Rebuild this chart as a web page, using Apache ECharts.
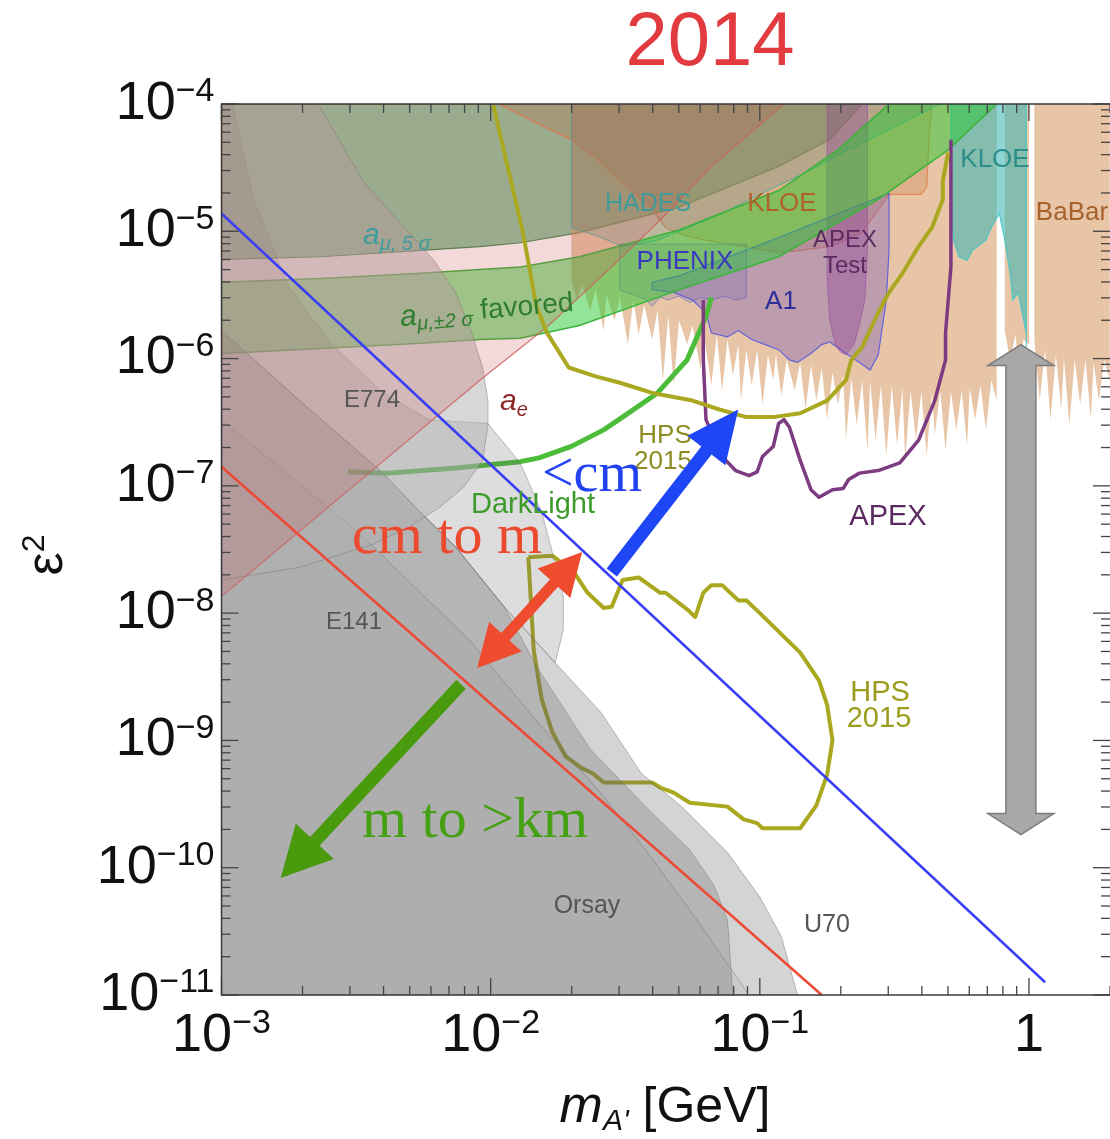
<!DOCTYPE html>
<html><head><meta charset="utf-8">
<script src="https://cdn.jsdelivr.net/npm/echarts/dist/echarts.min.js"></script>
<style>html,body{margin:0;padding:0;background:#fff}#c{width:1110px;height:1139px}</style>
</head><body><div id="c"></div>
<script>
// All curve / region values are [log10(m_A' / GeV), log10(eps^2)].
const blueLine = [[-3.00,-4.86],[0.06,-10.90]];
const redLine  = [[-3.00,-6.85],[-0.77,-11.00]];
const hpsUpper = [[-1.99,-4.01],[-1.88,-5.01],[-1.83,-5.59],[-1.79,-5.80],[-1.71,-6.07],[-1.61,-6.14],[-1.52,-6.19],[-1.40,-6.27],[-1.25,-6.33],[-1.15,-6.40],[-1.05,-6.46],[-0.95,-6.46],[-0.85,-6.43],[-0.75,-6.33],[-0.68,-6.17],[-0.66,-6.01],[-0.62,-5.91],[-0.56,-5.64],[-0.52,-5.48],[-0.47,-5.33],[-0.41,-5.12],[-0.36,-4.97],[-0.32,-4.75],[-0.32,-4.60],[-0.30,-4.38]];
const hpsLoop = [[-1.86,-7.56],[-1.77,-7.55],[-1.69,-7.68],[-1.64,-7.84],[-1.58,-7.96],[-1.55,-7.95],[-1.51,-7.74],[-1.45,-7.72],[-1.37,-7.84],[-1.35,-7.84],[-1.27,-7.97],[-1.24,-8.03],[-1.21,-7.84],[-1.18,-7.78],[-1.14,-7.78],[-1.08,-7.90],[-1.05,-7.90],[-1.00,-8.00],[-0.85,-8.31],[-0.78,-8.53],[-0.75,-8.72],[-0.73,-9.00],[-0.75,-9.27],[-0.79,-9.51],[-0.85,-9.69],[-0.99,-9.69],[-1.01,-9.65],[-1.06,-9.62],[-1.12,-9.52],[-1.26,-9.49],[-1.32,-9.41],[-1.37,-9.37],[-1.40,-9.33],[-1.58,-9.33],[-1.62,-9.26],[-1.66,-9.22],[-1.72,-9.13],[-1.77,-8.94],[-1.81,-8.68],[-1.83,-8.42],[-1.84,-8.29]];
const apexLine = [[-1.21,-5.54],[-1.21,-6.01],[-1.20,-6.48],[-1.14,-6.77],[-1.09,-6.88],[-1.04,-6.92],[-1.01,-6.89],[-0.99,-6.77],[-0.95,-6.69],[-0.93,-6.51],[-0.91,-6.48],[-0.89,-6.54],[-0.85,-6.80],[-0.81,-7.03],[-0.78,-7.09],[-0.73,-7.03],[-0.69,-7.02],[-0.67,-6.95],[-0.63,-6.90],[-0.56,-6.88],[-0.48,-6.82],[-0.41,-6.64],[-0.35,-6.33],[-0.31,-6.01],[-0.31,-5.80],[-0.29,-5.28],[-0.29,-4.75],[-0.29,-4.28]];
const darkLight = [[-2.53,-6.89],[-2.38,-6.90],[-2.13,-6.86],[-1.89,-6.81],[-1.82,-6.78],[-1.70,-6.69],[-1.58,-6.56],[-1.51,-6.46],[-1.38,-6.27],[-1.27,-6.01],[-1.20,-5.67],[-1.18,-5.52]];

const aeRegion = [[-3.00,-4.00],[-0.91,-4.00],[-1.18,-4.49],[-1.36,-4.89],[-1.55,-5.28],[-1.79,-5.75],[-2.04,-6.17],[-2.52,-7.02],[-3.00,-7.87]];
const amu5s = [[-3.00,-5.22],[-2.63,-5.20],[-2.26,-5.15],[-2.04,-5.12],[-1.89,-5.09],[-1.67,-5.01],[-1.30,-4.81],[-0.93,-4.49],[-0.74,-4.28],[-0.62,-4.00]];
const amu2sUpper = [[-3.00,-5.40],[-2.63,-5.37],[-2.26,-5.33],[-2.04,-5.30],[-1.89,-5.28],[-1.67,-5.20],[-1.30,-4.99],[-0.93,-4.68],[-0.71,-4.36],[-0.52,-4.00]];
const amu2sLower = [[-3.00,-5.96],[-2.63,-5.92],[-2.26,-5.88],[-2.04,-5.85],[-1.89,-5.84],[-1.67,-5.74],[-1.30,-5.46],[-0.93,-5.20],[-0.56,-4.75],[-0.30,-4.36],[-0.12,-4.00]];

const kloeOrange = [[-1.97,-4.00],[-1.82,-4.16],[-1.70,-4.28],[-1.60,-4.44],[-1.51,-4.62],[-1.40,-4.83],[-1.35,-4.97],[-1.27,-5.04],[-1.15,-5.09],[-1.05,-5.12],[-0.93,-5.17],[-0.74,-5.12],[-0.62,-5.01],[-0.52,-4.71],[-0.40,-4.71],[-0.38,-4.65],[-0.37,-4.23],[-0.36,-4.00]];
const hades = [[-1.70,-4.00],[-1.70,-4.97],[-1.60,-5.04],[-1.51,-5.12],[-1.38,-5.07],[-1.31,-5.01],[-1.15,-4.87],[-1.00,-4.71],[-0.85,-4.56],[-0.67,-4.36],[-0.48,-4.16],[-0.33,-4.00]];
const phenix = [[-1.52,-5.10],[-1.52,-5.46],[-1.47,-5.50],[-1.42,-5.54],[-1.40,-5.59],[-1.37,-5.52],[-1.34,-5.54],[-1.30,-5.51],[-1.26,-5.56],[-1.22,-5.52],[-1.18,-5.54],[-1.13,-5.51],[-1.09,-5.54],[-1.05,-5.52],[-1.05,-5.10]];
const a1 = [[-1.40,-5.40],[-1.40,-5.46],[-1.32,-5.48],[-1.25,-5.54],[-1.20,-5.64],[-1.18,-5.80],[-1.12,-5.83],[-1.08,-5.78],[-1.03,-5.85],[-0.98,-5.89],[-0.93,-5.93],[-0.89,-6.01],[-0.86,-6.03],[-0.81,-5.96],[-0.77,-5.89],[-0.74,-5.87],[-0.68,-5.96],[-0.63,-6.03],[-0.59,-6.09],[-0.56,-5.97],[-0.53,-5.54],[-0.52,-5.15],[-0.52,-4.70],[-0.93,-5.05],[-1.30,-5.35]];
const apexTest = [[-0.75,-4.00],[-0.75,-5.38],[-0.74,-5.70],[-0.72,-5.89],[-0.70,-5.95],[-0.68,-5.97],[-0.65,-5.89],[-0.63,-5.74],[-0.61,-5.54],[-0.60,-5.15],[-0.60,-4.00]];
const kloeTeal = [[-0.29,-4.00],[-0.29,-4.75],[-0.28,-5.07],[-0.26,-5.20],[-0.23,-5.23],[-0.21,-5.15],[-0.16,-5.07],[-0.14,-4.97],[-0.11,-4.86],[-0.09,-5.07],[-0.07,-5.33],[-0.06,-5.54],[-0.04,-5.48],[-0.01,-5.80],[-0.01,-5.91],[-0.01,-4.00]];
const babarA = [[-1.70,-4.00],[-1.70,-5.38],[-1.68,-5.54],[-1.66,-5.42],[-1.63,-5.62],[-1.61,-5.46],[-1.58,-5.78],[-1.57,-5.50],[-1.54,-5.70],[-1.52,-5.52],[-1.49,-5.89],[-1.47,-5.54],[-1.45,-5.81],[-1.43,-5.58],[-1.40,-5.85],[-1.38,-5.62],[-1.36,-6.17],[-1.34,-5.66],[-1.32,-6.21],[-1.30,-5.70],[-1.27,-5.89],[-1.25,-5.74],[-1.22,-6.09],[-1.21,-5.78],[-1.18,-6.21],[-1.16,-5.81],[-1.14,-6.25],[-1.12,-5.85],[-1.10,-6.13],[-1.08,-5.89],[-1.07,-6.33],[-1.05,-5.93],[-1.03,-6.21],[-1.01,-5.93],[-0.99,-6.36],[-0.97,-5.97],[-0.95,-6.17],[-0.94,-5.97],[-0.92,-6.29],[-0.90,-6.01],[-0.87,-6.25],[-0.85,-6.03],[-0.83,-6.40],[-0.81,-6.05],[-0.79,-6.33],[-0.77,-6.07],[-0.75,-6.48],[-0.73,-6.11],[-0.71,-6.36],[-0.69,-6.13],[-0.68,-6.64],[-0.66,-6.15],[-0.64,-6.52],[-0.62,-6.17],[-0.60,-6.72],[-0.59,-6.18],[-0.57,-6.64],[-0.55,-6.21],[-0.53,-6.76],[-0.51,-6.21],[-0.49,-6.68],[-0.47,-6.23],[-0.46,-6.80],[-0.44,-6.25],[-0.42,-6.64],[-0.40,-6.26],[-0.38,-6.76],[-0.36,-6.26],[-0.35,-6.60],[-0.33,-6.25],[-0.31,-6.72],[-0.29,-6.26],[-0.27,-6.56],[-0.25,-6.25],[-0.23,-6.68],[-0.22,-6.23],[-0.20,-6.48],[-0.18,-6.21],[-0.16,-6.56],[-0.14,-6.17],[-0.12,-6.33],[-0.12,-4.00]];
const babarB = [[-0.09,-4.00],[-0.09,-5.78],[-0.07,-6.01],[-0.05,-5.81],[-0.04,-6.09],[-0.02,-5.85],[0.00,-5.89],[0.00,-4.00]];
const babarC = [[0.02,-4.00],[0.02,-5.85],[0.04,-6.33],[0.06,-5.93],[0.08,-6.48],[0.10,-5.97],[0.12,-6.40],[0.13,-6.00],[0.15,-6.52],[0.17,-6.01],[0.19,-6.36],[0.21,-6.01],[0.23,-6.48],[0.24,-6.03],[0.26,-6.33],[0.28,-6.01],[0.30,-6.17],[0.30,-4.00]];

const grayE774 = [[-3.00,-4.00],[-2.64,-4.00],[-2.47,-4.62],[-2.32,-4.97],[-2.21,-5.23],[-2.13,-5.48],[-2.07,-5.80],[-2.03,-6.07],[-2.01,-6.33],[-2.01,-6.52],[-2.03,-6.80],[-2.10,-7.01],[-2.19,-7.17],[-2.30,-7.32],[-2.44,-7.46],[-2.71,-7.64],[-3.00,-7.74]];
const grayE141 = [[-3.00,-4.00],[-2.96,-4.00],[-2.88,-4.75],[-2.75,-5.44],[-2.59,-5.89],[-2.41,-6.25],[-2.23,-6.48],[-2.01,-6.51],[-1.89,-6.82],[-1.81,-7.21],[-1.77,-7.53],[-1.73,-7.87],[-1.73,-8.13],[-1.76,-8.39],[-1.95,-7.95],[-2.13,-7.48],[-2.26,-7.21],[-2.41,-6.88],[-2.71,-6.33],[-3.00,-5.78]];
const grayU70 = [[-3.00,-5.78],[-2.71,-6.33],[-2.41,-6.88],[-2.26,-7.21],[-2.13,-7.48],[-1.95,-7.95],[-1.76,-8.39],[-1.59,-8.78],[-1.44,-9.26],[-1.29,-9.52],[-1.12,-9.88],[-1.00,-10.23],[-0.92,-10.54],[-0.86,-11.00],[-3.00,-11.00]];
const grayOrsay = [[-3.00,-5.78],[-2.71,-6.33],[-2.41,-6.88],[-2.26,-7.21],[-2.13,-7.48],[-1.95,-7.95],[-1.82,-8.45],[-1.63,-9.07],[-1.41,-9.55],[-1.26,-9.86],[-1.17,-10.14],[-1.12,-10.41],[-1.10,-11.00],[-3.00,-11.00]];
const grayE137 = [[-3.00,-6.48],[-2.50,-7.35],[-2.08,-8.21],[-1.84,-8.82],[-1.60,-9.39],[-1.41,-9.90],[-1.22,-10.45],[-1.04,-11.00],[-3.00,-11.00]];

// annotation arrows: [from, to] in the same log units
const arrowBlue  = [[-1.55,-7.68],[-1.08,-6.40]];
const arrowRed   = [[-1.66,-7.52],[-2.05,-8.43]];
const arrowGreen = [[-2.11,-8.56],[-2.78,-10.08]];
const arrowGray  = [[-0.03,-5.89],[-0.03,-9.74]];

// axes ticks
const xMajorTicks = [1e-3, 1e-2, 1e-1, 1];
const xTickLabels = ['{b|10}{s|−3}','{b|10}{s|−2}','{b|10}{s|−1}','{b|1}'];
const yMajorTicks = [1e-11,1e-10,1e-9,1e-8,1e-7,1e-6,1e-5,1e-4];
const yTickLabels = ['{b|10}{s|−11}','{b|10}{s|−10}','{b|10}{s|−9}','{b|10}{s|−8}','{b|10}{s|−7}','{b|10}{s|−6}','{b|10}{s|−5}','{b|10}{s|−4}'];
const xMinorTicks = [0.002,0.003,0.004,0.005,0.006,0.007,0.008,0.009,0.02,0.03,0.04,0.05,0.06,0.07,0.08,0.09,0.2,0.3,0.4,0.5,0.6,0.7,0.8,0.9,2];
const yMinorTicks = [2e-11,3e-11,4e-11,5e-11,6e-11,7e-11,8e-11,9e-11,2e-10,3e-10,4e-10,5e-10,6e-10,7e-10,8e-10,9e-10,2e-9,3e-9,4e-9,5e-9,6e-9,7e-9,8e-9,9e-9,2e-8,3e-8,4e-8,5e-8,6e-8,7e-8,8e-8,9e-8,2e-7,3e-7,4e-7,5e-7,6e-7,7e-7,8e-7,9e-7,2e-6,3e-6,4e-6,5e-6,6e-6,7e-6,8e-6,9e-6,2e-5,3e-5,4e-5,5e-5,6e-5,7e-5,8e-5,9e-5];

const F = '"Liberation Sans", Arial, Helvetica, sans-serif';
const SERIF = '"Liberation Serif", "Times New Roman", serif';
const XMIN = 1e-3, XMAX = 2, YMIN = 1e-11, YMAX = 1e-4;
const V = arr => arr.map(p => [Math.pow(10, p[0]), Math.pow(10, p[1])]);

function region(logPts, fill, stroke, lw, z) {
  const pts = V(logPts);
  return { type: 'custom', z, silent: true, clip: true, data: [[XMIN, YMIN]],
    renderItem: (params, api) => ({ type: 'polygon', shape: { points: pts.map(p => api.coord(p)) },
      style: { fill, stroke: stroke || null, lineWidth: lw || 0 } }) };
}
function curve(logPts, color, width, z, closed) {
  const d = V(closed ? logPts.concat([logPts[0]]) : logPts);
  return { type: 'line', data: d, symbol: 'none', showSymbol: false, silent: true, z,
    lineStyle: { color, width, join: 'round' } };
}
function arrow(pair, sty, dbl, z) {
  const a = V(pair);
  return { type: 'custom', z, silent: true, clip: false, data: [[XMIN, YMIN]],
    renderItem: (params, api) => {
      const A = api.coord(a[0]), B = api.coord(a[1]);
      const dx = B[0]-A[0], dy = B[1]-A[1], L = Math.hypot(dx, dy), ux = dx/L, uy = dy/L, nx = -uy, ny = ux;
      const w = sty.shaft/2, hl = sty.headLen, hh = sty.headHalf;
      const P = (p, s, t) => [p[0]+ux*s+nx*t, p[1]+uy*s+ny*t];
      const pts = dbl
        ? [A, P(A,hl,hh), P(A,hl,w), P(B,-hl,w), P(B,-hl,hh), B, P(B,-hl,-hh), P(B,-hl,-w), P(A,hl,-w), P(A,hl,-hh)]
        : [P(A,0,w), P(B,-hl,w), P(B,-hl,hh), B, P(B,-hl,-hh), P(B,-hl,-w), P(A,0,-w)];
      return { type: 'polygon', shape: { points: pts }, style: { fill: sty.fill, stroke: sty.stroke || null, lineWidth: sty.lw || 0 } };
    } };
}
function xTicks(vals, len) {
  return { type: 'custom', z: 20, silent: true, clip: false, data: vals.map(v => [v, YMIN]),
    renderItem: (params, api) => {
      const b = api.coord([api.value(0), YMIN]), t = api.coord([api.value(0), YMAX]);
      const s = { stroke: '#444', lineWidth: 1.3 };
      return { type: 'group', children: [
        { type: 'line', shape: { x1: b[0], y1: b[1], x2: b[0], y2: b[1]-len }, style: s },
        { type: 'line', shape: { x1: t[0], y1: t[1], x2: t[0], y2: t[1]+len }, style: s } ] };
    } };
}
function yTicks(vals, len) {
  return { type: 'custom', z: 20, silent: true, clip: false, data: vals.map(v => [XMIN, v]),
    renderItem: (params, api) => {
      const l = api.coord([XMIN, api.value(1)]), r = api.coord([XMAX, api.value(1)]);
      const s = { stroke: '#444', lineWidth: 1.3 };
      return { type: 'group', children: [
        { type: 'line', shape: { x1: l[0], y1: l[1], x2: l[0]+len, y2: l[1] }, style: s },
        { type: 'line', shape: { x1: r[0], y1: r[1], x2: r[0]-len, y2: r[1] }, style: s } ] };
    } };
}
function labelFor(v, ticks, labels) {
  const lv = Math.log10(v);
  for (let i = 0; i < ticks.length; i++) if (Math.abs(Math.log10(ticks[i]) - lv) < 1e-6) return labels[i];
  return '';
}
const axisRich = {
  b: { fontSize: 54, fontFamily: F, color: '#111', lineHeight: 58 },
  s: { fontSize: 34, fontFamily: F, color: '#111', lineHeight: 26, verticalAlign: 'top' }
};

const gray = a => 'rgba(100,100,100,' + a + ')';
const gStroke = 'rgba(115,115,115,0.45)';

const series = [
  region([[-3.00,-4.00]].concat(amu5s), 'rgba(27,139,63,0.5)', '#3f8a4f', 1.2, 0),
  region(babarA, 'rgba(214,150,92,0.55)', null, 0, 1),
  region(babarB, 'rgba(214,150,92,0.55)', null, 0, 1),
  region(babarC, 'rgba(214,150,92,0.55)', null, 0, 1),
  region(kloeOrange, 'rgba(190,110,50,0.25)', 'rgba(225,130,80,0.9)', 1.2, 2),
  region(hades, 'rgba(40,140,140,0.22)', 'rgba(60,170,170,0.8)', 1, 2),
  region(phenix, 'rgba(40,60,170,0.14)', 'rgba(60,80,200,0.45)', 1, 2),
  region(a1, 'rgba(110,80,190,0.35)', 'rgba(90,90,225,0.9)', 1.2, 2),
  region(apexTest, 'rgba(140,60,150,0.35)', 'rgba(150,80,160,0.6)', 1, 2),
  region(kloeTeal, 'rgba(50,180,180,0.55)', 'rgba(70,200,200,0.9)', 1.2, 2),
  region(amu2sUpper.concat(amu2sLower.slice().reverse()), 'rgba(40,200,50,0.5)', '#3bb33b', 1.5, 3),
  curve(hpsLoop, '#a9a81e', 4, 5, true),
  curve(darkLight, '#4cbc3a', 5, 5, false),
  region(grayE137, gray(0.08), gStroke, 1, 6),
  region(grayU70, gray(0.28), gStroke, 1, 6),
  region(grayOrsay, gray(0.28), gStroke, 1, 6),
  region(grayE141, gray(0.22), gStroke, 1, 6),
  region(grayE774, 'rgba(175,175,175,0.5)', gStroke, 1, 6),
  region(aeRegion, 'rgba(200,80,80,0.22)', 'rgba(205,95,95,0.85)', 1.2, 7),
  curve(blueLine, '#3a3ff5', 2.5, 8, false),
  curve(redLine, '#ec4a36', 2.5, 8, false),
  curve(apexLine, '#7d3b82', 3.5, 8, false),
  curve(hpsUpper, '#aaa820', 4, 8, false),
  arrow(arrowBlue, { shaft: 13, headLen: 52, headHalf: 24, fill: '#1f46f5' }, false, 10),
  arrow(arrowRed, { shaft: 11, headLen: 42, headHalf: 22, fill: '#ee4b2f' }, true, 10),
  arrow(arrowGreen, { shaft: 13, headLen: 50, headHalf: 26, fill: '#4a9a0e' }, false, 10),
  arrow(arrowGray, { shaft: 30, headLen: 21, headHalf: 33, fill: '#a8a8a8', stroke: '#7c7c7c', lw: 1.5 }, true, 10),
  xTicks(xMajorTicks, 17), xTicks(xMinorTicks, 9),
  yTicks(yMajorTicks, 17), yTicks(yMinorTicks, 9)
];

const T = (x, y, text, size, color, o = {}) => ({
  type: 'text', x, y, z: o.z != null ? o.z : 100, rotation: o.rot || 0, silent: true,
  style: { text, fill: color, font: (o.italic ? 'italic ' : '') + size + 'px ' + (o.serif ? SERIF : F),
    textAlign: o.align || 'center', align: o.align || 'center', textVerticalAlign: 'middle', verticalAlign: 'middle',
    rich: o.rich }
});
const subRich = (c, aSize, sSize, extra) => Object.assign({
  a: { fontSize: aSize, fontFamily: F, fontStyle: 'italic', fill: c, color: c, lineHeight: aSize + 6 },
  s: { fontSize: sSize, fontFamily: F, fontStyle: 'italic', fill: c, color: c, lineHeight: sSize, verticalAlign: 'bottom' }
}, extra || {});

const graphic = [
  { type: 'rect', z: 30, silent: true, shape: { x: 221.5, y: 104, width: 889.5, height: 891 }, style: { fill: null, stroke: '#3a3a3a', lineWidth: 1.5 } },
  T(710, 44, '2014', 76, '#e23b3f'),
  T(648, 204, 'HADES', 25, '#3f9b9b'),
  T(782, 204, 'KLOE', 26, '#b0612b'),
  T(995, 160, 'KLOE', 26, '#2f8c8c'),
  T(1072, 213, 'BaBar', 26, '#a5622d'),
  T(845, 240, 'APEX', 24, '#5b2a60'),
  T(845, 266, 'Test', 24, '#5b2a60'),
  T(685, 262, 'PHENIX', 26, '#3a3abf'),
  T(781, 302, 'A1', 26, '#2d2d9b'),
  T(363, 236, '{a|a}{s|μ, 5 σ}', 30, '#3c9c9c', { align: 'left', rich: subRich('#3c9c9c', 30, 20) }),
  T(400, 318, '{a|a}{s|μ,±2 σ}{f| favored}', 30, '#2f7d2f', { align: 'left', rot: 0.085,
     rich: subRich('#2f7d2f', 30, 20, { f: { fontSize: 28, fontFamily: F, fill: '#2f7d2f', color: '#2f7d2f', lineHeight: 36 } }) }),
  T(372, 400, 'E774', 24, '#555'),
  T(500, 402, '{a|a}{s|e}', 30, '#8c2626', { align: 'left', rich: subRich('#8c2626', 30, 20) }),
  T(665, 436, 'HPS', 26, '#8c8c22', { z: 9 }),
  T(663, 462, '2015', 26, '#8c8c22', { z: 9 }),
  T(592, 476, '<cm', 56, '#2343f2', { serif: true }),
  T(533, 505, 'DarkLight', 29, '#3d9b2c'),
  T(888, 517, 'APEX', 29, '#5b2a60'),
  T(447, 538, 'cm to m', 58, '#ec4a2f', { serif: true }),
  T(354, 622, 'E141', 24, '#555'),
  T(880, 693, 'HPS', 29, '#9c9c1f'),
  T(879, 719, '2015', 29, '#9c9c1f'),
  T(475, 822, 'm to >km', 58, '#46a014', { serif: true }),
  T(587, 906, 'Orsay', 25, '#555'),
  T(827, 925, 'U70', 25, '#555'),
  T(665, 1108, '{m|m}{s|A\'}{t| [GeV]}', 50, '#111', { rich: {
     m: { fontSize: 52, fontFamily: F, fontStyle: 'italic', fill: '#111', lineHeight: 58 },
     s: { fontSize: 30, fontFamily: F, fontStyle: 'italic', fill: '#111', lineHeight: 30, verticalAlign: 'bottom' },
     t: { fontSize: 50, fontFamily: F, fill: '#111', lineHeight: 58 } } }),
  T(48, 555, '{e|ε}{s|2}', 50, '#111', { rot: Math.PI / 2, rich: {
     e: { fontSize: 52, fontFamily: F, fill: '#111', lineHeight: 58 },
     s: { fontSize: 32, fontFamily: F, fill: '#111', lineHeight: 28, verticalAlign: 'top' } } })
];

const chart = echarts.init(document.getElementById('c'), null, { renderer: 'canvas' });
chart.setOption({
  animation: false,
  backgroundColor: '#fff',
  grid: { left: 221.5, top: 104, width: 889.5, height: 891, show: false },
  xAxis: { type: 'log', logBase: 10, min: XMIN, max: XMAX,
    axisLine: { show: false }, axisTick: { show: false }, splitLine: { show: false }, minorTick: { show: false },
    axisLabel: { margin: 12, formatter: v => labelFor(v, xMajorTicks, xTickLabels), rich: axisRich, showMaxLabel: false } },
  yAxis: { type: 'log', logBase: 10, min: YMIN, max: YMAX, splitNumber: 7,
    axisLine: { show: false }, axisTick: { show: false }, splitLine: { show: false }, minorTick: { show: false },
    axisLabel: { margin: 7, formatter: v => labelFor(v, yMajorTicks, yTickLabels), rich: axisRich } },
  series,
  graphic
});
</script></body></html>
